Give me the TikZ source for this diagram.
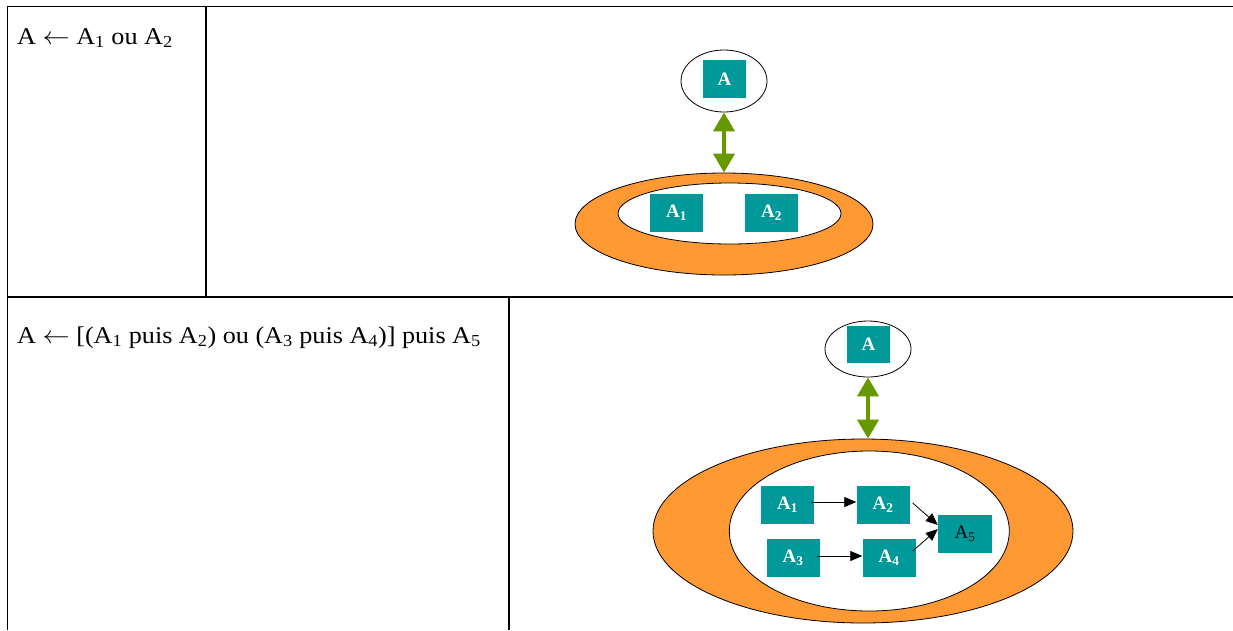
\documentclass[tikz,border=0pt]{standalone}
\usepackage{fontspec}
\setmainfont{Liberation Serif}
\usetikzlibrary{shapes.geometric,arrows.meta}
\definecolor{tealbox}{HTML}{009999}
\definecolor{ringorange}{HTML}{FF9933}
\definecolor{linkgreen}{HTML}{669900}
\newcommand{\wideline}[1]{\scalebox{1.09}[1]{#1}}
\begin{document}
\begin{tikzpicture}[x=1pt,y=-1pt,
  grid/.style={line width=1.9pt},
  lbl/.style={anchor=base west, inner sep=0pt, font=\fontsize{24}{28}\selectfont},
  ring/.style={ellipse, draw, line width=0.8pt, fill=ringorange, inner sep=0pt},
  hole/.style={ellipse, draw, line width=0.8pt, fill=white, inner sep=0pt},
  act/.style={rectangle, fill=tealbox, text=white, font=\bfseries\fontsize{19}{22}\selectfont, minimum width=53pt, minimum height=38pt, inner sep=0pt},
  link/.style={draw=linkgreen, line width=4pt, {Triangle[length=19pt,width=21pt,fill=linkgreen]}-{Triangle[length=19pt,width=21pt,fill=linkgreen]}},
  seq/.style={line width=0.8pt, -{Triangle[length=12pt,width=10pt]}}
]
\useasboundingbox (0,0) rectangle (1233,630);
\fill[white] (0,0) rectangle (1233,630);

% table grid
\draw[grid] (7.5,630) -- (7.5,6.5) -- (1233,6.5);
\draw[grid] (7.5,296.7) -- (1233,296.7);
\draw[grid] (206,6.5) -- (206,296.7);
\draw[grid] (509,296.7) -- (509,630);

% texts
\node[lbl] (t1) at (17,44) {\wideline{A $\leftarrow$ A\textsubscript{1} ou A\textsubscript{2}}};
\node[lbl] (t2) at (17,343) {\wideline{A $\leftarrow$ [(A\textsubscript{1} puis A\textsubscript{2}) ou (A\textsubscript{3} puis A\textsubscript{4})] puis A\textsubscript{5}}};

% row 1 diagram
\node[hole, minimum width=86pt, minimum height=62pt] (top1) at (724,81) {};
\node[act, minimum width=43pt] (a1) at (724.5,79) {A};
\node[ring, minimum width=298pt, minimum height=102pt] (ring1) at (724,224) {};
\node[hole, minimum width=223pt, minimum height=61pt] (hole1) at (729.5,213.5) {};
\node[act] (a11) at (676.5,213) {A\textsubscript{1}};
\node[act] (a12) at (771.5,213) {A\textsubscript{2}};
\draw[link] (top1.south) -- (top1.south |- ring1.north);

% row 2 diagram
\node[hole, minimum width=86pt, minimum height=56pt] (top2) at (868,349) {};
\node[act, minimum width=43pt, minimum height=37pt] (a2) at (868.5,344) {A};
\node[ring, minimum width=420pt, minimum height=184pt] (ring2) at (863,531) {};
\node[hole, minimum width=280pt, minimum height=160pt] (hole2) at (869.3,531) {};
\node[act] (b1) at (787.5,505) {A\textsubscript{1}};
\node[act] (b2) at (883,505) {A\textsubscript{2}};
\node[act] (b3) at (793,558) {A\textsubscript{3}};
\node[act] (b4) at (889,558) {A\textsubscript{4}};
\node[act, minimum width=54pt, text=black, font=\fontsize{19}{22}\selectfont] (b5) at (965,534) {A\textsubscript{5}};
\draw[link] (top2.south) -- (top2.south |- ring2.north);
\draw[seq] ([xshift=-3pt,yshift=3pt]b1.east) -- ([yshift=3pt]b2.west);
\draw[seq] ([xshift=-3pt,yshift=2pt]b3.east) -- ([yshift=2pt]b4.west);
\draw[seq] ([xshift=3pt,yshift=2pt]b2.east) -- ([yshift=9pt]b5.west);
\draw[seq] ([xshift=-3pt,yshift=7pt]b4.east) -- ([yshift=5pt]b5.west);
\end{tikzpicture}
\end{document}
